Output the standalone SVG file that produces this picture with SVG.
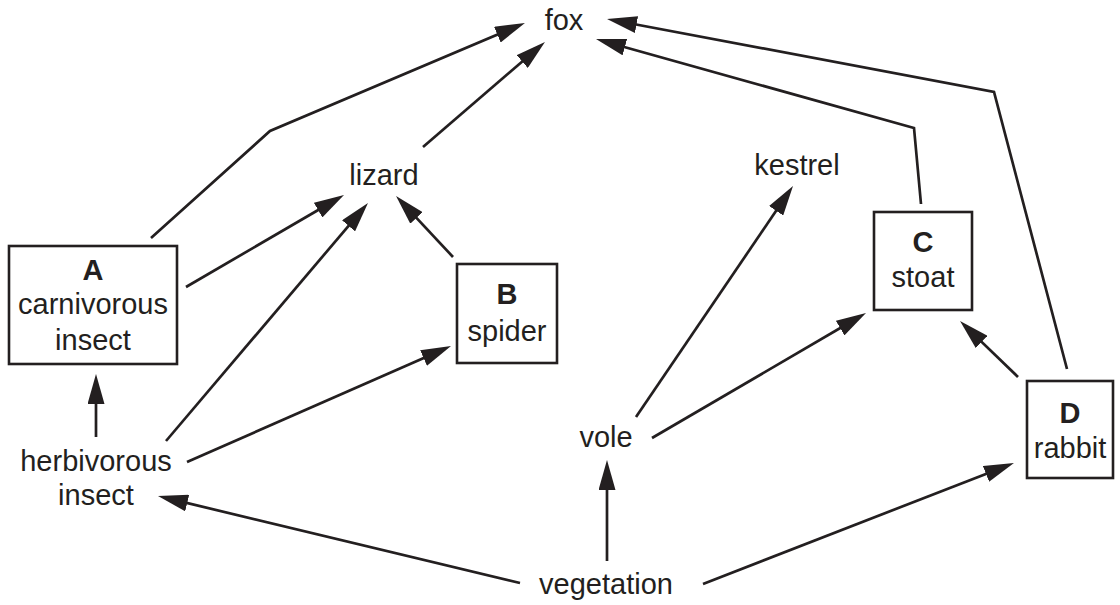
<svg xmlns="http://www.w3.org/2000/svg" width="1120" height="605" viewBox="0 0 1120 605">
<style>
text{font-family:"Liberation Sans",Arial,sans-serif;font-size:29px;fill:#231f20;text-anchor:middle}
.b{font-weight:bold}
.box{fill:#fff;stroke:#231f20;stroke-width:2.6}
#connectors path{fill:none;stroke:#231f20;stroke-width:2.7;marker-end:url(#ah)}
</style>
<defs>
<marker id="ah" markerUnits="userSpaceOnUse" markerWidth="30" markerHeight="17" refX="22" refY="8.5" orient="auto" viewBox="0 0 30 17">
<path d="M0,0 L30,8.5 L0,17 Z" fill="#231f20"/>
</marker>
</defs>
<rect width="1120" height="605" fill="#fff"/>
<g id="connectors">
<path d="M151,238 L270,131 L517.6,26.1"/>
<path d="M423,147 L538.9,47.2"/>
<path d="M186,287 L337.1,199"/>
<path d="M166,441 L362.8,209.1"/>
<path d="M453,257 L401.5,201.8"/>
<path d="M187,462 L443.7,349.2"/>
<path d="M96,437 L96,382"/>
<path d="M520,583 L165.8,497.9"/>
<path d="M607,561 L607,468"/>
<path d="M703,584 L1006.5,465.9"/>
<path d="M636,417 L788.5,192.6"/>
<path d="M652,438 L859.1,317"/>
<path d="M1018,377 L965.8,326.6"/>
<path d="M921,204 L914,128 L603.7,41.2"/>
<path d="M1067,369 L994,92 L614.9,20.5"/>
</g>
<g id="fox"><text x="564" y="30">fox</text></g>
<g id="lizard"><text x="384" y="185">lizard</text></g>
<g id="kestrel"><text x="797" y="175">kestrel</text></g>
<g id="nodeA"><rect class="box" x="9" y="246" width="168" height="118"/><text class="b" x="93" y="280">A</text><text x="93" y="314">carnivorous</text><text x="93" y="350">insect</text></g>
<g id="nodeB"><rect class="box" x="457" y="264" width="100" height="99"/><text class="b" x="507" y="304">B</text><text x="507" y="341">spider</text></g>
<g id="nodeC"><rect class="box" x="874" y="212" width="98" height="98"/><text class="b" x="923" y="252">C</text><text x="923" y="287">stoat</text></g>
<g id="nodeD"><rect class="box" x="1027" y="381" width="86" height="97"/><text class="b" x="1070" y="423">D</text><text x="1070" y="458">rabbit</text></g>
<g id="herbivorous"><text x="96" y="471">herbivorous</text><text x="96" y="505">insect</text></g>
<g id="vole"><text x="606" y="447">vole</text></g>
<g id="vegetation"><text x="606" y="594">vegetation</text></g>
</svg>
